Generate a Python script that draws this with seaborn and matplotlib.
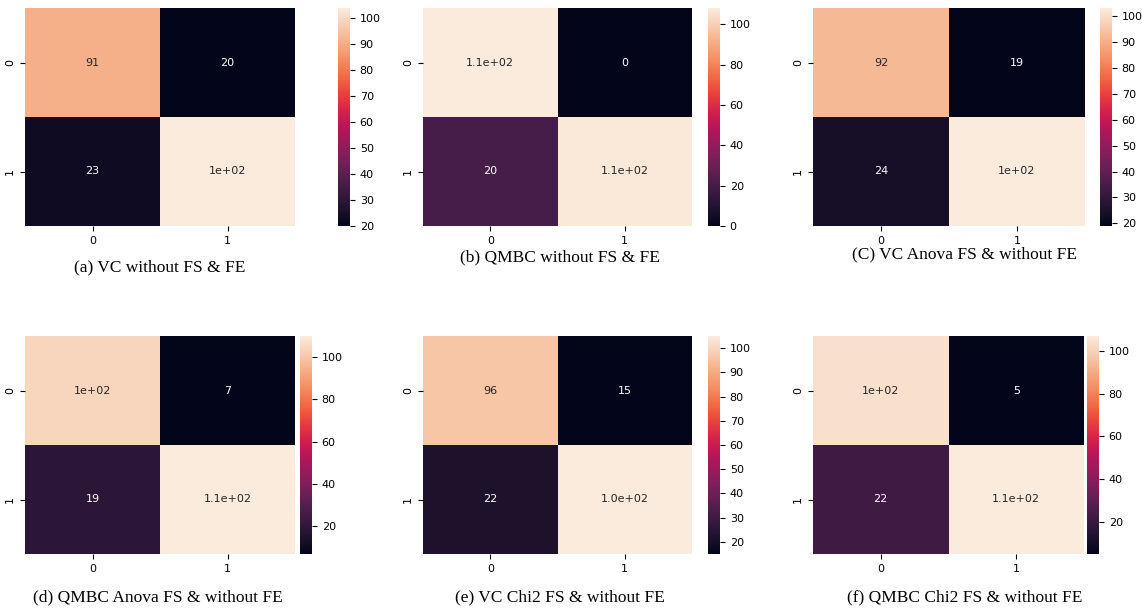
import matplotlib
matplotlib.use("Agg")
import matplotlib.pyplot as plt
import seaborn as sns
import numpy as np

captions = ["(a) VC without FS & FE", "(b) QMBC without FS & FE", "(C) VC Anova FS & without FE",
            "(d) QMBC Anova FS & without FE", "(e) VC Chi2 FS & without FE", "(f) QMBC Chi2 FS & without FE"]
mats = [
    [[91, 20], [23, 104]],
    [[108, 0], [20, 107]],
    [[92, 19], [24, 103]],
    [[104, 7], [19, 110]],
    [[96, 15], [22, 105]],
    [[104, 5], [22, 107]],
]
labels = [
    [["91", "20"], ["23", "1e+02"]],
    [["1.1e+02", "0"], ["20", "1.1e+02"]],
    [["92", "19"], ["24", "1e+02"]],
    [["1e+02", "7"], ["19", "1.1e+02"]],
    [["96", "15"], ["22", "1.0e+02"]],
    [["1e+02", "5"], ["22", "1.1e+02"]],
]
tick_labels = ["0", "1"]

W, H = 1142, 612
fig = plt.figure(figsize=(W/100, H/100), dpi=100)
lay = [
    (25, 295, 338, 8, 226, 160, 267),
    (423, 692, 708, 8, 226, 560, 257),
    (813, 1085, 1100, 8, 226, 965, 254),
    (25, 295, 300, 336, 554, 158, 597),
    (423, 692, 708, 336, 554, 560, 597),
    (813, 1084, 1087, 336, 554, 965, 597),
]
for m, lab, cap, (x0, x1, cx, t, b, tx, ty) in zip(mats, labels, captions, lay):
    ax = fig.add_axes([x0/W, 1-b/H, (x1-x0)/W, (b-t)/H])
    cax = fig.add_axes([cx/W, 1-b/H, 12/W, (b-t)/H])
    sns.heatmap(np.array(m), annot=np.array(lab), fmt="", ax=ax, cbar_ax=cax,
                xticklabels=tick_labels, yticklabels=tick_labels, annot_kws={"fontsize": 8})
    ax.tick_params(labelsize=8)
    cax.tick_params(labelsize=8)
    cax.set_frame_on(False)
    fig.text(tx/W, 1-ty/H, cap, ha="center", va="center", family="Liberation Serif", fontsize=12.5)

fig.savefig("out.png", dpi=100)
